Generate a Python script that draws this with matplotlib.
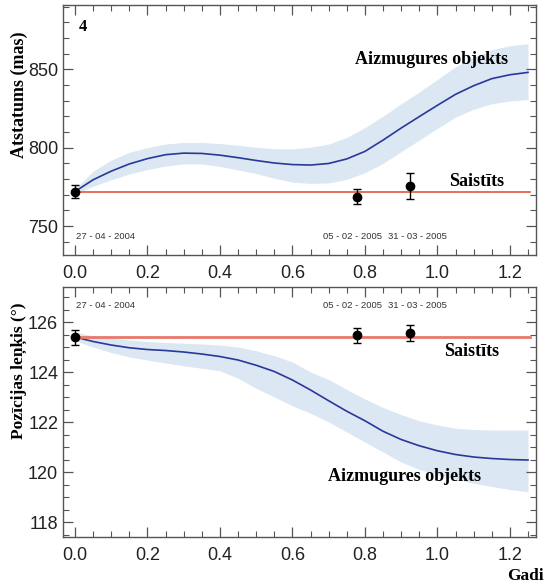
import matplotlib
matplotlib.use("Agg")
import matplotlib.pyplot as plt
from matplotlib.ticker import MultipleLocator

plt.rcParams["font.family"] = ["Liberation Sans", "DejaVu Sans"]

# laiks (gadi) no pirmā novērojuma
t = [0.00, 0.05, 0.10, 0.15, 0.20, 0.25, 0.30, 0.35, 0.40, 0.45, 0.50, 0.55, 0.60,
     0.65, 0.70, 0.75, 0.80, 0.85, 0.90, 0.95, 1.00, 1.05, 1.10, 1.15, 1.20, 1.25]

# atstatums (mas) - aizmugures objekta modelis
sep_bg = [772.0, 779.5, 785.0, 789.6, 793.0, 795.5, 796.5, 796.3, 795.2, 793.6, 791.8, 790.2, 789.2,
          788.9, 789.9, 792.8, 797.6, 804.8, 812.5, 819.8, 827.0, 834.0, 839.5, 844.0, 846.5, 848.0]
sep_hi = [773.5, 785.0, 792.0, 797.0, 800.0, 802.3, 803.3, 803.3, 802.6, 801.5, 800.3, 799.3, 799.2,
          800.3, 802.3, 806.5, 812.8, 820.0, 828.0, 835.5, 843.5, 851.5, 857.5, 862.5, 865.0, 866.3]
sep_lo = [770.5, 775.4, 779.5, 783.2, 786.0, 788.3, 789.6, 789.6, 788.0, 785.8, 783.5, 780.5, 778.0,
          777.2, 777.5, 779.8, 784.0, 790.0, 797.5, 804.8, 812.3, 819.5, 824.5, 828.0, 829.8, 830.6]

# pozīcijas leņķis (grādi) - aizmugures objekta modelis
pa_bg = [125.40, 125.22, 125.08, 124.97, 124.90, 124.86, 124.80, 124.72, 124.62, 124.48, 124.27, 124.02, 123.68,
         123.28, 122.85, 122.43, 122.05, 121.63, 121.30, 121.05, 120.85, 120.70, 120.60, 120.54, 120.50, 120.48]
pa_hi = [125.60, 125.45, 125.35, 125.28, 125.22, 125.18, 125.15, 125.12, 125.08, 125.00, 124.85, 124.65, 124.40,
         124.00, 123.70, 123.30, 122.92, 122.58, 122.30, 122.05, 121.88, 121.75, 121.70, 121.68, 121.68, 121.68]
pa_lo = [125.25, 125.00, 124.78, 124.60, 124.48, 124.36, 124.25, 124.15, 124.05, 123.75, 123.35, 123.00, 122.65,
         122.35, 122.00, 121.60, 121.20, 120.80, 120.40, 120.10, 119.90, 119.72, 119.55, 119.42, 119.30, 119.21]

# novērojumi
obs_t = [0.0, 0.778, 0.925]
obs_sep = [771.8, 768.8, 775.7]
obs_sep_err = [4.2, 5.0, 8.2]
obs_pa = [125.40, 125.48, 125.56]
obs_pa_err = [0.30, 0.30, 0.32]
obs_dates = ["27 - 04 - 2004", "05 - 02 - 2005", "31 - 03 - 2005"]
date_x = [0.003, 0.683, 0.865]

t_end = 1.255
sep_const = obs_sep[0]
pa_const = obs_pa[0]

serif = ["Liberation Serif", "DejaVu Serif"]
band_col = "#dbe7f2"
line_col = "#28399a"

fig = plt.figure(figsize=(5.49, 5.86), dpi=100)
ax1 = fig.add_axes([0.1148, 0.5648, 0.8615, 0.4267])
ax2 = fig.add_axes([0.1148, 0.0836, 0.8615, 0.4266])

for ax in (ax1, ax2):
    ax.set_xlim(-0.033, 1.272)
    ax.xaxis.set_major_locator(MultipleLocator(0.2))
    ax.xaxis.set_minor_locator(MultipleLocator(0.05))
    ax.tick_params(which="both", direction="in", top=True, right=True,
                   colors="#555555", labelcolor="#222222", labelsize=13)
    ax.tick_params(which="major", length=7, width=0.9)
    ax.tick_params(which="minor", length=4, width=0.8)
    ax.tick_params(axis="x", pad=7)
    for s in ax.spines.values():
        s.set_color("#555555")
        s.set_linewidth(1.0)

# augšējais panelis: atstatums
ax1.set_ylim(731.5, 891)
ax1.yaxis.set_major_locator(MultipleLocator(50))
ax1.yaxis.set_minor_locator(MultipleLocator(10))
ax1.fill_between(t, sep_lo, sep_hi, color=band_col, lw=0)
ax1.plot(t, sep_bg, color=line_col, lw=1.2)
ax1.plot([0, t_end], [sep_const, sep_const], color="#e2583e", lw=1.2)
ax1.errorbar(obs_t, obs_sep, yerr=obs_sep_err, fmt="o", color="black", ms=6,
             capsize=3, elinewidth=1, capthick=1, zorder=5)
ax1.set_ylabel("Atstatums (mas)", family=serif, fontweight="bold", fontsize=13)
ax1.yaxis.set_label_coords(-0.075, 0.64)
ax1.text(0.01, 876.7, "4", family=serif, fontweight="bold", fontsize=12, va="center")
ax1.text(0.985, 856.4, "Aizmugures objekts", family=serif, fontweight="bold", fontsize=13, ha="center", va="center")
ax1.text(1.109, 778.3, "Saistīts", family=serif, fontweight="bold", fontsize=13, ha="center", va="center")
for dx, d in zip(date_x, obs_dates):
    ax1.text(dx, 743.0, d, fontsize=6.8, color="#333333", va="center")

# apakšējais panelis: pozīcijas leņķis
ax2.set_ylim(117.4, 127.4)
ax2.yaxis.set_major_locator(MultipleLocator(2))
ax2.yaxis.set_minor_locator(MultipleLocator(0.5))
ax2.fill_between(t, pa_lo, pa_hi, color=band_col, lw=0)
ax2.plot(t, pa_bg, color=line_col, lw=1.2)
ax2.plot([0, t_end], [pa_const, pa_const], color="#e8786a", lw=2)
ax2.errorbar(obs_t, obs_pa, yerr=obs_pa_err, fmt="o", color="black", ms=6,
             capsize=3, elinewidth=1, capthick=1, zorder=5)
ax2.set_ylabel("Pozīcijas leņķis (°)", family=serif, fontweight="bold", fontsize=12.5)
ax2.yaxis.set_label_coords(-0.077, 0.664)
ax2.text(1.095, 124.84, "Saistīts", family=serif, fontweight="bold", fontsize=13, ha="center", va="center")
ax2.text(0.909, 119.84, "Aizmugures objekts", family=serif, fontweight="bold", fontsize=13, ha="center", va="center")
for dx, d in zip(date_x, obs_dates):
    ax2.text(dx, 126.67, d, fontsize=6.8, color="#333333", va="center")

fig.text(0.99, 0.01, "Gadi", family=serif, fontweight="bold", fontsize=12.5, ha="right", va="baseline")

fig.savefig("out.png", dpi=100)
